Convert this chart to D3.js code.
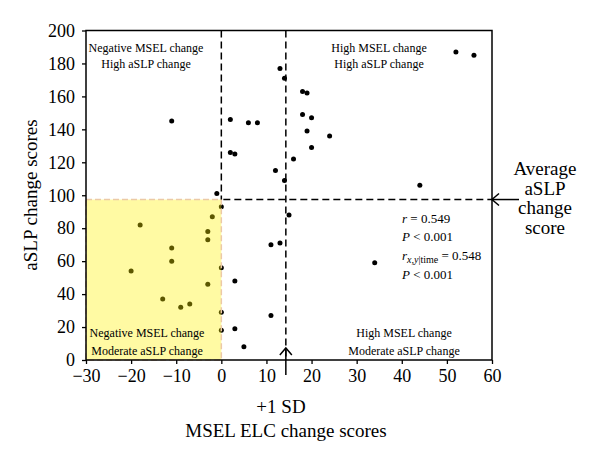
<!DOCTYPE html>
<html><head><meta charset="utf-8">
<script src="https://cdn.jsdelivr.net/npm/d3@7"></script>
<style>
body{margin:0;background:#fff;}
svg{display:block;font-family:"Liberation Serif","DejaVu Serif",serif;}
</style></head><body>
<svg id="chart" width="600" height="464"></svg>
<script>
// ---- data ----
const mselChange = [-11,13,14,2,6,8,2,3,16,12,14,-1,0,15,-2,-18,-3,-3,-11,-11,-20,0,3,-3,-13,-9,-7,0,0,3,5,11,13,11,18,19,18,20,19,24,20,44,52,56,34];
const aslpChange = [145,177,171,146,144,144,126,125,122,115,109,101,93,88,87,82,78,73,68,60,54,56,48,46,37,32,34,29,18,19,8,70,71,27,163,162,149,147,139,136,129,106,187,185,59];
const xTicks = [-30,-20,-10,0,10,20,30,40,50,60];
const yTicks = [0,20,40,60,80,100,120,140,160,180,200];
const sdLine = 14.3;          // +1 SD of MSEL change
const avgAslp = 97.4;         // average aSLP change score
const quadrantTop = [["Negative MSEL change","High aSLP change"],["High MSEL change","High aSLP change"]];
const quadrantBottom = [["Negative MSEL change","Moderate aSLP change"],["High MSEL change","Moderate aSLP change"]];
const avgLabel = ["Average","aSLP","change","score"];

// ---- layout ----
const svg = d3.select("#chart");
const L=86, R=492, T=30.5, B=360;
const x = d3.scaleLinear().domain([-30,60]).range([L,R]);
const y = d3.scaleLinear().domain([0,200]).range([B,T]);

// points
svg.append("g").selectAll("circle").data(mselChange.map((v,i)=>[v,aslpChange[i]])).join("circle")
  .attr("cx",d=>x(d[0])).attr("cy",d=>y(d[1])).attr("r",2.5).attr("fill","#000");

// yellow region (semi-transparent, over points)
svg.append("rect")
  .attr("x",x(-30)).attr("y",y(avgAslp)).attr("width",x(0)-x(-30)).attr("height",y(0)-y(avgAslp))
  .attr("fill","rgb(255,242,0)").attr("fill-opacity",0.36)
  .attr("stroke","#ecc9a6").attr("stroke-width",1.5).attr("stroke-dasharray","6,3");

// dashed reference lines
const dash = {stroke:"#000","stroke-width":1.5,"stroke-dasharray":"7,4"};
function line(x1,y1,x2,y2,st){const l=svg.append("line").attr("x1",x1).attr("y1",y1).attr("x2",x2).attr("y2",y2);for(const k in st)l.attr(k,st[k]);return l;}
line(x(0),T,x(0),y(avgAslp),dash);
line(x(sdLine),T,x(sdLine),B,dash);
line(x(0)+2,y(avgAslp),R,y(avgAslp),dash);

// axes
const xAxis = d3.axisBottom(x).tickValues(xTicks).tickSize(4).tickPadding(5).tickFormat(d=>d<0?"\u2212"+Math.abs(d):d);
const yAxis = d3.axisLeft(y).tickValues(yTicks).tickSize(4).tickPadding(7);
const gx = svg.append("g").attr("transform",`translate(0,${B})`).call(xAxis);
const gy = svg.append("g").attr("transform",`translate(${L},0)`).call(yAxis);
[gx,gy].forEach(g=>{
  g.select(".domain").remove();
  g.selectAll("line").attr("stroke","#000").attr("stroke-width",1.3);
  g.selectAll("text").attr("font-size",18).attr("fill","#000").attr("font-family","Liberation Serif, serif");
});
// frame
svg.append("rect").attr("x",L).attr("y",T).attr("width",R-L).attr("height",B-T)
  .attr("fill","none").attr("stroke","#000").attr("stroke-width",1.5);

// arrows
const solid={stroke:"#000","stroke-width":1.5,fill:"none"};
line(x(sdLine),B-12,x(sdLine),B+15,solid);
svg.append("path").attr("d",`M${x(sdLine)-6},${B-5}L${x(sdLine)},${B-12}L${x(sdLine)+6},${B-5}`).attr("stroke","#000").attr("stroke-width",1.5).attr("fill","none");
line(R,y(avgAslp),R+27,y(avgAslp),solid);
svg.append("path").attr("d",`M${R+7},${y(avgAslp)-6}L${R},${y(avgAslp)}L${R+7},${y(avgAslp)+6}`).attr("stroke","#000").attr("stroke-width",1.5).attr("fill","none");

// axis titles
svg.append("text").attr("transform","translate(37,195) rotate(-90)").attr("text-anchor","middle")
  .attr("font-size",19).text("aSLP change scores");
svg.append("text").attr("x",281).attr("y",413).attr("text-anchor","middle").attr("font-size",19).text("+1 SD");
svg.append("text").attr("x",286).attr("y",437).attr("text-anchor","middle").attr("font-size",19).text("MSEL ELC change scores");

// average label
svg.append("g").selectAll("text").data(avgLabel).join("text")
  .attr("x",545).attr("y",(d,i)=>175+i*19.7).attr("text-anchor","middle").attr("font-size",19).text(d=>d);

// quadrant labels
const qx=[146,379], qxb=[147,404];
quadrantTop.forEach((q,i)=>q.forEach((t,j)=>svg.append("text").attr("x",qx[i]).attr("y",52+j*15.5).attr("text-anchor","middle").attr("font-size",12).text(t)));
quadrantBottom.forEach((q,i)=>q.forEach((t,j)=>svg.append("text").attr("x",qxb[i]).attr("y",337+j*17.5).attr("text-anchor","middle").attr("font-size",12).text(t)));

// statistics
const st = svg.append("g").attr("font-size",13);
let t1 = st.append("text").attr("x",402).attr("y",223);
t1.append("tspan").attr("font-style","italic").text("r");t1.append("tspan").text(" = 0.549");
let t2 = st.append("text").attr("x",402).attr("y",241);
t2.append("tspan").attr("font-style","italic").text("P");t2.append("tspan").text(" < 0.001");
let t3 = st.append("text").attr("x",402).attr("y",260);
t3.append("tspan").attr("font-style","italic").text("r");
t3.append("tspan").attr("font-style","italic").attr("font-size",10).attr("dy",3).text("x,y");
t3.append("tspan").attr("font-size",10).text("|time");
t3.append("tspan").attr("dy",-3).text(" = 0.548");
let t4 = st.append("text").attr("x",402).attr("y",279);
t4.append("tspan").attr("font-style","italic").text("P");t4.append("tspan").text(" < 0.001");
</script></body></html>
